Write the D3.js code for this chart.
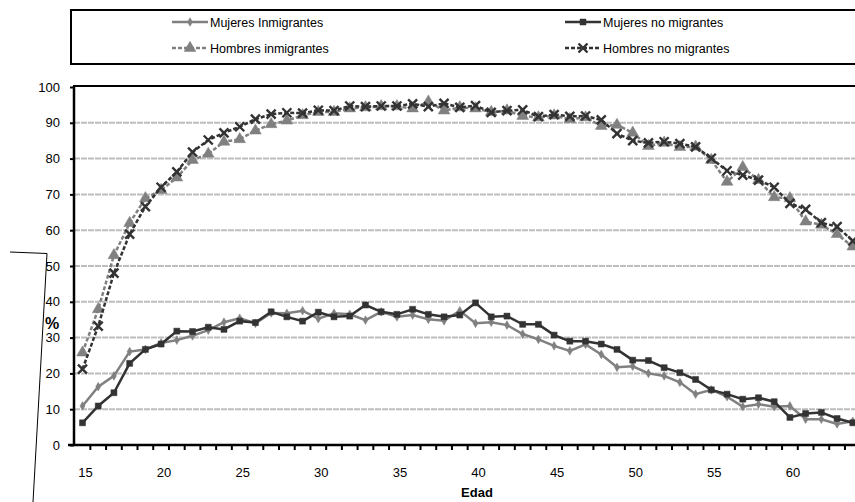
<!DOCTYPE html>
<html><head><meta charset="utf-8">
<script src="https://cdn.jsdelivr.net/npm/d3@7"></script>
<style>body{margin:0;background:#fff}svg{display:block;font-family:"Liberation Sans",Arial,sans-serif}</style>
</head><body><svg id="c" width="855" height="502"></svg>
<script>
const ages = d3.range(15, 65);
const mujeresInmigrantes = [10.9,16.3,19.3,26.1,26.7,28.5,29.3,30.5,32.1,34.3,35.4,34.0,36.9,36.8,37.5,35.3,36.8,36.5,34.9,37.2,35.8,36.3,35.1,34.7,37.5,34.0,34.3,33.5,31.0,29.5,27.7,26.3,28.1,25.3,21.7,22.0,20.0,19.3,17.5,14.2,15.4,13.5,10.7,11.4,10.7,10.9,7.2,7.2,5.9,6.6];
const mujeresNoMigrantes = [6.2,10.9,14.6,22.8,26.7,28.2,31.8,31.7,32.9,32.3,34.6,34.2,37.2,35.8,34.6,37.1,35.8,36.0,39.1,37.2,36.5,37.9,36.5,35.8,36.3,39.7,35.8,36.0,33.7,33.7,30.7,29.0,29.0,28.2,26.7,23.7,23.6,21.6,20.2,18.3,15.4,14.2,12.8,13.2,12.1,7.7,8.8,9.1,7.4,6.2];
const hombresInmigrantes = [25.8,37.9,53.0,62.0,68.9,71.2,74.7,79.6,81.3,84.7,85.4,87.8,89.6,90.6,92.1,93.0,93.0,94.0,94.3,94.6,94.6,94.0,95.9,93.4,94.3,94.0,93.0,93.4,91.9,91.5,92.0,91.0,91.5,89.1,89.4,87.2,83.5,84.4,83.2,83.3,79.6,73.5,77.6,74.0,69.2,68.9,62.4,61.5,58.9,55.4];
const hombresNoMigrantes = [21.2,33.2,48.0,58.9,66.6,72.0,76.3,81.8,85.2,87.2,88.9,91.0,92.4,92.8,92.7,93.5,93.4,94.7,94.5,94.7,94.7,95.3,94.5,95.4,94.3,94.8,92.9,93.4,93.6,91.7,92.3,91.8,91.9,90.8,87.0,85.0,84.4,84.7,84.2,83.3,80.1,76.6,75.4,74.0,72.0,67.5,65.8,62.1,61.0,57.0];
const yTicks = [0,10,20,30,40,50,60,70,80,90,100];
const xLabels = [15,20,25,30,35,40,45,50,55,60];
const seriesNames = ["Mujeres Inmigrantes","Mujeres no migrantes","Hombres inmigrantes","Hombres no migrantes"];

const svg = d3.select("#c");
const x = d3.scaleLinear().domain([15, 64]).range([82.5, 852.8]);
const y = d3.scaleLinear().domain([0, 100]).range([445, 87]);
const pLeft = 74, pRight = 870, pTop = 86, pBottom = 445;

const series = [
  {name: seriesNames[0], data: mujeresInmigrantes, color: "#808080", dash: null, marker: "diamond"},
  {name: seriesNames[1], data: mujeresNoMigrantes, color: "#333333", dash: null, marker: "square"},
  {name: seriesNames[2], data: hombresInmigrantes, color: "#808080", dash: "4,2", marker: "triangle"},
  {name: seriesNames[3], data: hombresNoMigrantes, color: "#333333", dash: "4,2", marker: "x"}
];

// gridlines
svg.append("g").selectAll("line").data(yTicks.filter(d => d > 0 && d < 100)).join("line")
  .attr("x1", pLeft).attr("x2", pRight).attr("y1", d => y(d)).attr("y2", d => y(d))
  .attr("stroke", "#bdbdbd").attr("stroke-width", 2).attr("stroke-dasharray", "6,1");

// top border
svg.append("line").attr("x1", pLeft - 1).attr("x2", pRight).attr("y1", pTop).attr("y2", pTop)
  .attr("stroke", "#000").attr("stroke-width", 2);

function markerPath(type) {
  if (type === "diamond") return d3.symbol(d3.symbolDiamond, 22)();
  if (type === "square") return d3.symbol(d3.symbolSquare, 36)();
  if (type === "triangle") return d3.symbol(d3.symbolTriangle, 60)();
  return "M-4.5,-4.5L4.5,4.5M-4.5,4.5L4.5,-4.5";
}

const line = d3.line().x((d, i) => x(ages[i])).y(d => y(d));
series.forEach(s => {
  const g = svg.append("g");
  g.append("path").datum(s.data).attr("d", line).attr("fill", "none")
    .attr("stroke", s.color).attr("stroke-width", 2.5)
    .attr("stroke-dasharray", s.dash);
  g.selectAll("path.m").data(s.data).join("path").attr("class", "m")
    .attr("transform", (d, i) => `translate(${x(ages[i])},${y(d)})`)
    .attr("d", markerPath(s.marker))
    .attr("fill", s.marker === "x" ? "none" : s.color)
    .attr("stroke", s.color).attr("stroke-width", s.marker === "x" ? 2.4 : 0.5);
});

// y axis
const yAxis = svg.append("g").attr("transform", `translate(${pLeft},0)`)
  .call(d3.axisLeft(y).tickValues(yTicks).tickSize(4).tickPadding(10));
yAxis.select(".domain").attr("stroke", "#000").attr("stroke-width", 2.5).attr("d", `M0,${pTop}V${pBottom}`);
yAxis.selectAll(".tick line").attr("stroke", "#000").attr("stroke-width", 2);
yAxis.selectAll(".tick text").attr("font-size", 13).attr("fill", "#000")
  .attr("font-family", "Liberation Sans, Arial, sans-serif");

// x axis
const tickPos = d3.range(15.5, 64.5, 1);
const xg = svg.append("g");
xg.append("line").attr("x1", pLeft - 6).attr("x2", pRight).attr("y1", pBottom).attr("y2", pBottom)
  .attr("stroke", "#000").attr("stroke-width", 2.5);
xg.selectAll("line.t").data(tickPos).join("line").attr("class", "t")
  .attr("x1", d => x(d)).attr("x2", d => x(d)).attr("y1", pBottom).attr("y2", pBottom + 5)
  .attr("stroke", "#000").attr("stroke-width", 2);
xg.selectAll("text").data(xLabels).join("text")
  .attr("x", d => x(d) + 3).attr("y", 477).attr("text-anchor", "middle")
  .attr("font-size", 13).text(d => d);
svg.append("text").attr("x", 477).attr("y", 497).attr("text-anchor", "middle")
  .attr("font-size", 13).attr("font-weight", "bold").text("Edad");

// y label artefact
svg.append("path").attr("d", "M10,252L47,253.5L33,502").attr("fill", "none").attr("stroke", "#000").attr("stroke-width", 1);
svg.append("text").attr("x", 52).attr("y", 329).attr("text-anchor", "middle")
  .attr("font-size", 16).attr("font-weight", "bold").text("%");

// legend
svg.append("rect").attr("x", 71).attr("y", 10).attr("width", 820).attr("height", 54)
  .attr("fill", "none").attr("stroke", "#000").attr("stroke-width", 2);
const legPos = [[172, 22], [565, 22], [172, 48], [565, 48]];
series.forEach((s, i) => {
  const [lx, ly] = legPos[i];
  const g = svg.append("g").attr("transform", `translate(${lx},${ly})`);
  g.append("line").attr("x1", 0).attr("x2", 36).attr("y1", 0).attr("y2", 0)
    .attr("stroke", s.color).attr("stroke-width", 2.5).attr("stroke-dasharray", s.dash);
  g.append("path").attr("transform", "translate(18,0)").attr("d", markerPath(s.marker))
    .attr("fill", s.marker === "x" ? "none" : s.color).attr("stroke", s.color)
    .attr("stroke-width", s.marker === "x" ? 2.4 : 0.5);
  g.append("text").attr("x", 38).attr("y", 4.5).attr("font-size", 12.5).text(s.name);
});
</script></body></html>
